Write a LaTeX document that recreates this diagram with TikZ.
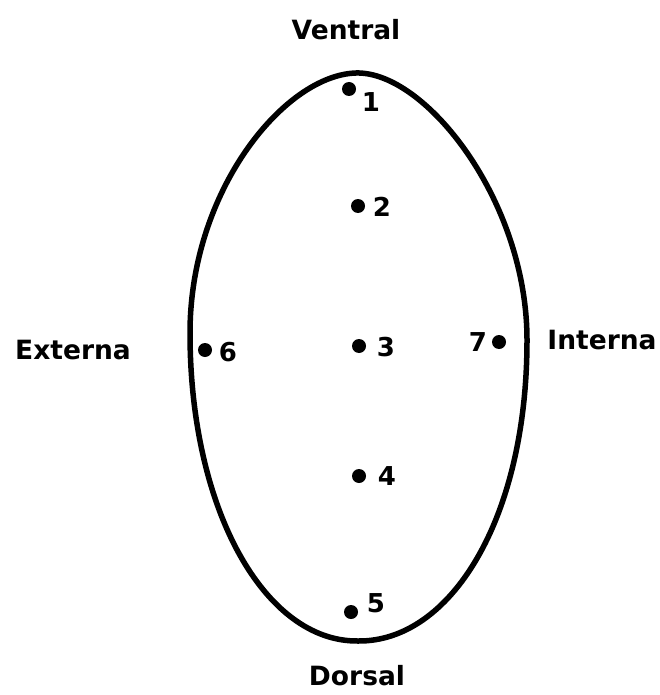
\documentclass[tikz,border=0pt]{standalone}
\usepackage{fontspec}
\setmainfont{DejaVu Sans}
\begin{document}
\begin{tikzpicture}[x=1pt,y=-1pt,
  dot/.style={circle,fill=black,inner sep=0pt,minimum size=14pt},
  num/.style={font=\bfseries\fontsize{26}{26}\selectfont,inner sep=0pt},
  lab/.style={font=\bfseries\fontsize{26.5}{26.5}\selectfont,inner sep=0pt},
  outline/.style={line width=5.5pt}]
\useasboundingbox (0,0) rectangle (660,695);
\coordinate (top) at (356,73);
\coordinate (right) at (527,340);
\coordinate (bottom) at (358,641);
\coordinate (left) at (190,333);
\draw[outline] (top) .. controls (425,71) and (527,200) .. (right)
  .. controls (527,520) and (450,642) .. (bottom)
  .. controls (265,642) and (190,510) .. (left)
  .. controls (190,190) and (285,75) .. (top) -- cycle;
\node[dot] (d1) at (349,89) {};
\node[dot] (d2) at (358,206) {};
\node[dot] (d3) at (359,346) {};
\node[dot] (d4) at (359,476) {};
\node[dot] (d5) at (351,612) {};
\node[dot] (d6) at (205,350) {};
\node[dot] (d7) at (499,342) {};
\node[num] (n1) at (371,102) {1};
\node[num] (n2) at (382,207) {2};
\node[num] (n3) at (386,347) {3};
\node[num] (n4) at (387,476) {4};
\node[num] (n5) at (376,603) {5};
\node[num] (n6) at (228,352) {6};
\node[num] (n7) at (478,342) {7};
\node[lab] (v) at (346,30) {Ventral};
\node[lab] (e) at (73,350) {Externa};
\node[lab] (i) at (602,340) {Interna};
\node[lab] (ds) at (357,676) {Dorsal};
\end{tikzpicture}
\end{document}
